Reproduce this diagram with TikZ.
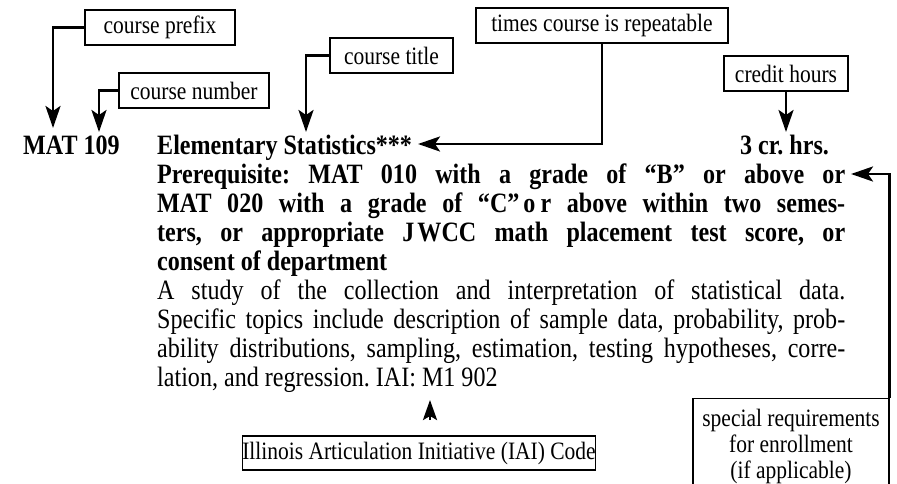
\documentclass[tikz,border=0pt]{standalone}
\usepackage{fontspec}
\setmainfont{Liberation Serif}[FakeStretch=0.86]
\usetikzlibrary{arrows.meta}
\frenchspacing
\tikzset{
  lbl/.style={draw, line width=1.3pt, inner sep=0pt, minimum height=35pt, font=\fontsize{25}{25}\selectfont, align=center},
  conn/.style={line width=2.7pt, -{Stealth[length=22pt,width=15pt,inset=5pt]}},
  txt/.style={anchor=base west, inner sep=0pt, font=\fontsize{28}{29}\selectfont},
  btxt/.style={anchor=base west, inner sep=0pt, font=\fontsize{28}{29}\selectfont\bfseries},
}
\begin{document}
\begin{tikzpicture}[x=1pt,y=-1pt]
\useasboundingbox (0,0) rectangle (897,484);
% label boxes
\node[lbl, minimum width=150pt] (bPrefix) at (160,27.5) {course prefix};
\node[lbl, minimum width=150pt] (bNumber) at (194,90.5) {course number};
\node[lbl, minimum width=123pt] (bTitle) at (391.5,55.5) {course title};
\node[lbl, minimum width=252pt] (bTimes) at (602,25.5) {times course is repeatable};
\node[lbl, minimum width=124pt] (bCredit) at (786,73.5) {credit hours};
\node[lbl, minimum width=350pt, minimum height=34pt] (bIAI) at (419,453) {Illinois Articulation Initiative (IAI) Code};
\node[lbl, anchor=north, minimum width=196pt, minimum height=96pt, font=\fontsize{25}{26}\selectfont] (bSpecial) at (791,398) {special requirements\\for enrollment\\(if applicable)};
% catalog entry
\node[btxt] (code) at (23,154) {MAT 109};
\node[btxt] (ctitle) at (157,154) {Elementary Statistics***};
\node[btxt] (hrs) at (740,154) {3 cr. hrs.};
\node[btxt] (pre1) at (157,183) {\makebox[688pt][s]{Prerequisite: MAT 010 with a grade of “B” or above or}};
\node[btxt] (pre2) at (157,212) {\makebox[688pt][s]{MAT 020 with a grade of “C”\kern4pt o\kern5pt r above within two semes-}};
\node[btxt] (pre3) at (157,241) {\makebox[688pt][s]{ters, or appropriate J\kern3pt WCC math placement test score, or}};
\node[btxt] (pre4) at (157,270) {consent of department};
\node[txt] (d1) at (157,299) {\makebox[688pt][s]{A study of the collection and interpretation of statistical data.}};
\node[txt] (d2) at (157,328) {\makebox[688pt][s]{Specific topics include description of sample data, probability, prob-}};
\node[txt] (d3) at (157,357) {\makebox[688pt][s]{ability distributions, sampling, estimation, testing hypotheses, corre-}};
\node[txt] (d4) at (157,386) {lation, and regression. IAI: M1 902};
% arrow end points
\coordinate (prefTip) at (53,128);
\coordinate (numTip) at (99,132);
\coordinate (titleTip) at (306,132);
\coordinate (timesTip) at (418,144);
\coordinate (credTip) at (786,132);
\coordinate (specTip) at (851,174);
\coordinate (iaiBase) at (430,420);
\coordinate (iaiTip) at (430,400);
% connectors
\draw[conn] (bPrefix.west) -| (prefTip);
\draw[conn] (bNumber.west) -| (numTip);
\draw[conn] (bTitle.west) -| (titleTip);
\draw[conn] (bTimes.south) |- (timesTip);
\draw[conn] (bCredit.south) -- (credTip);
\draw[conn] (bSpecial.north east) |- (specTip);
\draw[line width=2.7pt, -{Stealth[length=20pt,width=14pt,inset=4pt]}] (iaiBase) -- (iaiTip);
\end{tikzpicture}
\end{document}
